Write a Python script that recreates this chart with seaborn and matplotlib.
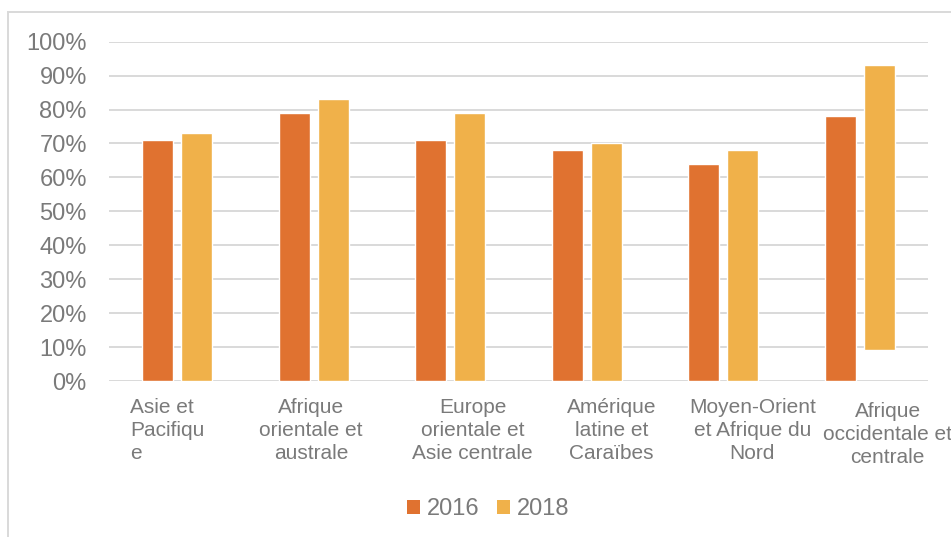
import matplotlib
matplotlib.use("Agg")
import matplotlib.pyplot as plt
import matplotlib.transforms as mtransforms
from matplotlib.patches import Rectangle
from matplotlib.ticker import FuncFormatter
import pandas as pd
import seaborn as sns

# Regions (wrapped the way they appear under the axis)
regions = [
    "Asie et\nPacifiqu\ne",
    "Afrique\norientale et\naustrale",
    "Europe\norientale et\nAsie centrale",
    "Amérique\nlatine et\nCaraïbes",
    "Moyen-Orient\net Afrique du\nNord",
    "Afrique\noccidentale et\ncentrale",
]
years = ["2016", "2018"]
values_2016 = [71, 79, 71, 68, 64, 78]
values_2018 = [73, 83, 79, 70, 68, 93]
# lower edge of each 2018 bar (the last one starts above zero)
base_2018 = [0, 0, 0, 0, 0, 9]
y_ticks = list(range(0, 101, 10))

colors = {"2016": "#E07230", "2018": "#F0B14A"}
text_gray = "#7a7a7a"
grid_gray = "#d9d9d9"

df = pd.DataFrame({
    "region": regions * 2,
    "year": [years[0]] * len(regions) + [years[1]] * len(regions),
    "value": values_2016 + values_2018,
})

sns.set_theme(style="white")
plt.rcParams["font.family"] = ["Liberation Sans", "DejaVu Sans"]

fig = plt.figure(figsize=(9.51, 5.37), dpi=100)
ax = fig.add_axes([109 / 951, 1 - 381 / 537, (928 - 109) / 951, (381 - 41.7) / 537])

sns.barplot(
    data=df, x="region", y="value", hue="year", order=regions,
    hue_order=years, palette=colors, width=0.571, gap=0.205,
    saturation=1, legend=False, ax=ax, zorder=3,
)

# apply the lower edge of the 2018 bars
for patch, top, base in zip(ax.containers[1], values_2018, base_2018):
    patch.set_y(base)
    patch.set_height(top - base)

ax.set_ylim(0, 100)
ax.set_xlim(-0.5, len(regions) - 0.5)
ax.set_yticks(y_ticks)
ax.yaxis.set_major_formatter(FuncFormatter(lambda v, _: f"{v:.0f}%"))
ax.grid(axis="y", color=grid_gray, linewidth=1.4, zorder=0)
ax.grid(axis="x", visible=False)
ax.set_axisbelow(True)
for s in ax.spines.values():
    s.set_visible(False)
ax.set_xlabel("")
ax.set_ylabel("")
ax.tick_params(axis="y", length=0, pad=16, labelsize=17, labelcolor=text_gray)
ax.tick_params(axis="x", length=0, pad=12, labelsize=15, labelcolor=text_gray)

# per-label alignment and nudges of the category captions (points)
label_align = ["left", "center", "center", "center", "center", "center"]
label_shift = [(-7, 0), (-2, 0), (16, 0), (18, 0), (21, 0), (20, -3)]
for lbl, align, (dx, dy) in zip(ax.get_xticklabels(), label_align, label_shift):
    lbl.set_multialignment(align)
    lbl.set_linespacing(1.28)
    lbl.set_transform(lbl.get_transform() + mtransforms.ScaledTranslation(dx / 72, dy / 72, fig.dpi_scale_trans))

# outer chart frame
fig.patches.append(Rectangle((8 / 951, -0.1), 1.2, 1 - 12 / 537 + 0.1,
                             transform=fig.transFigure, fill=False,
                             edgecolor=grid_gray, linewidth=1.4, zorder=0))

handles = [Rectangle((0, 0), 1, 1, facecolor=colors[y], edgecolor="none") for y in years]
fig.legend(handles, years, loc="center", bbox_to_anchor=(488 / 951, 1 - 509 / 537),
           ncol=2, frameon=False, fontsize=17, labelcolor=text_gray,
           handlelength=0.55, handleheight=0.55, handletextpad=0.3,
           columnspacing=0.75, borderpad=0)

fig.savefig("out.png", dpi=100)
